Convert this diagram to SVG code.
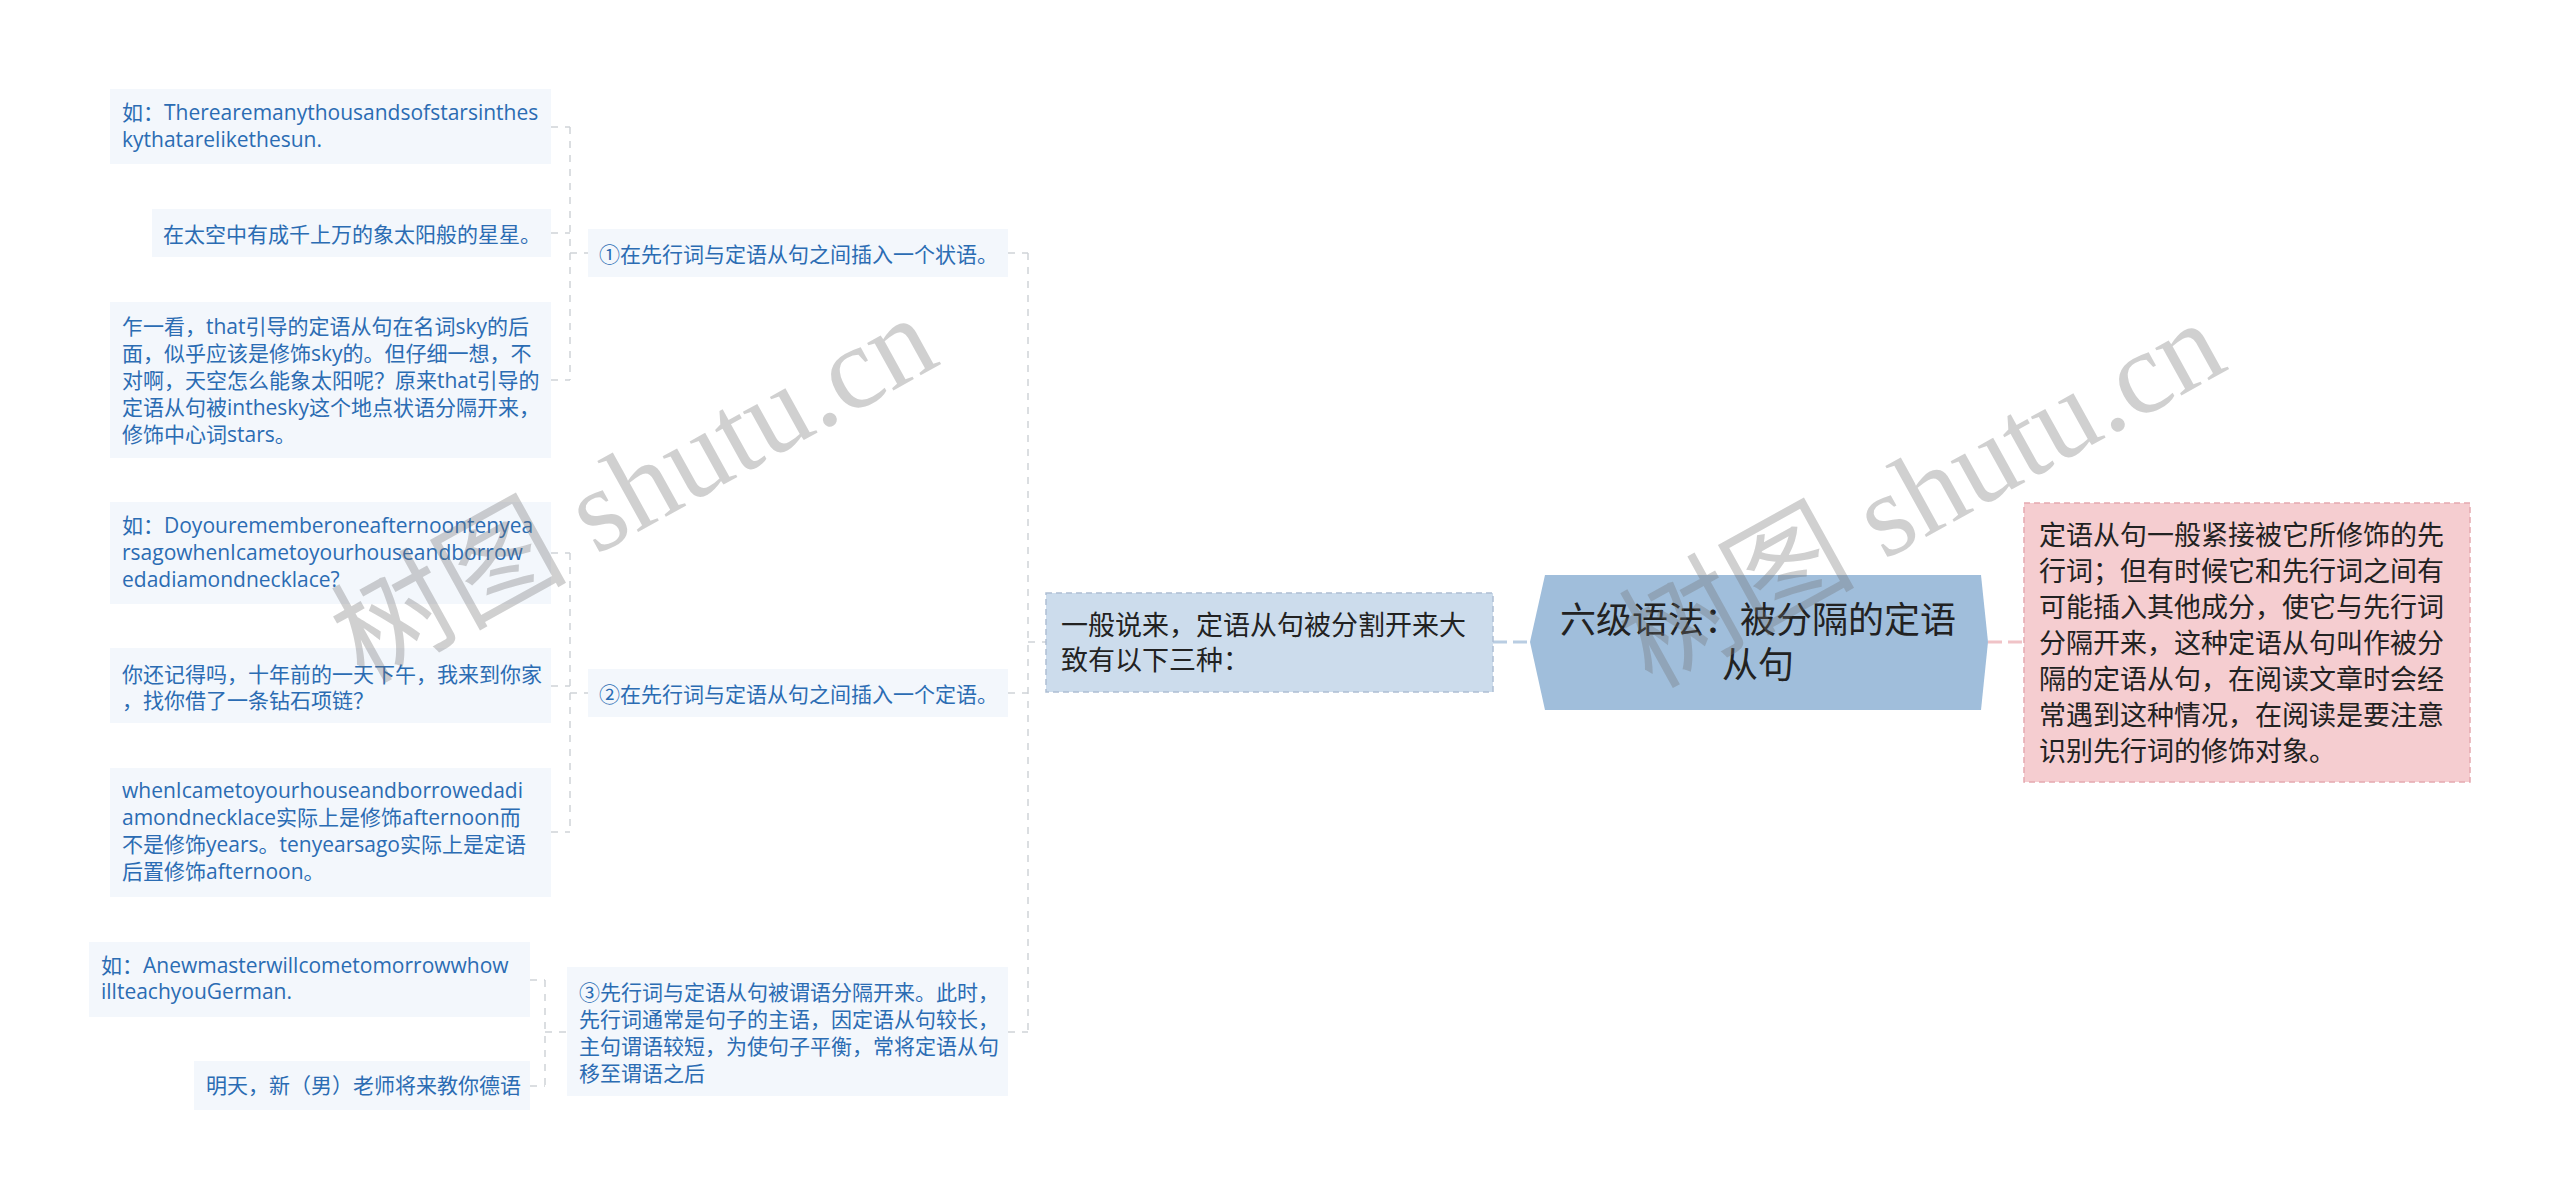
<svg xmlns="http://www.w3.org/2000/svg" width="2560" height="1199" viewBox="0 0 2560 1199">
<style>
.leaf rect{fill:#f3f7fc;}
.leaf text{font-family:"Open Sans","Noto Sans CJK SC",sans-serif;font-size:21px;fill:#2b6cb3;}
.sub rect{fill:#f3f7fc;}
.sub text{font-family:"Open Sans","Noto Sans CJK SC",sans-serif;font-size:21px;fill:#2b6cb3;}
.dark text{font-family:"Noto Sans CJK SC",sans-serif;fill:#222;}
.conn{fill:none;stroke:#cfd3d8;stroke-width:1.5;stroke-dasharray:7 7;}
.wm{font-family:"Liberation Serif","Noto Sans CJK SC",serif;font-size:118px;fill:#707070;fill-opacity:0.33;}
</style>
<rect width="2560" height="1199" fill="#ffffff"/>

<g id="connectors">
  <path class="conn" d="M551 127H570M551 233H570M551 380H570M570 127V380M570 253H588"/>
  <path class="conn" d="M551 553H570M551 686H570M551 832H570M570 553V832M570 693H588"/>
  <path class="conn" d="M530 980H545M530 1086H545M545 980V1086M545 1032H567"/>
  <path class="conn" d="M1008 253H1028M1008 693H1028M1008 1032H1028M1028 253V1032M1028 642H1046"/>
  <path d="M1493 642H1531" fill="none" stroke="#b9cde2" stroke-width="3" stroke-dasharray="14 6"/>
  <path d="M1988 642H2024" fill="none" stroke="#f0c3c7" stroke-width="3" stroke-dasharray="14 6"/>
</g>

<g id="root" class="dark">
  <polygon points="1530,642 1545,575 1981,575 1988,642 1981,710 1545,710" fill="#a0bedb"/>
  <text x="1758" y="633" font-size="36" text-anchor="middle">六级语法：被分隔的定语</text>
  <text x="1758" y="678" font-size="36" text-anchor="middle">从句</text>
</g>

<g id="desc" class="dark">
  <rect x="2024" y="503" width="446" height="279" fill="#f5cdd0" stroke="#e5a9b0" stroke-width="1.5" stroke-dasharray="6 4"/>
  <text font-size="27"><tspan x="2039" y="545">定语从句一般紧接被它所修饰的先</tspan><tspan x="2039" y="581">行词；但有时候它和先行词之间有</tspan><tspan x="2039" y="617">可能插入其他成分，使它与先行词</tspan><tspan x="2039" y="653">分隔开来，这种定语从句叫作被分</tspan><tspan x="2039" y="689">隔的定语从句，在阅读文章时会经</tspan><tspan x="2039" y="725">常遇到这种情况，在阅读是要注意</tspan><tspan x="2039" y="761">识别先行词的修饰对象。</tspan></text>
</g>

<g id="intro" class="dark">
  <rect x="1046" y="593" width="447" height="99" fill="#ccdcec" stroke="#aebfd3" stroke-width="1.5" stroke-dasharray="6 4"/>
  <text font-size="27"><tspan x="1061" y="635">一般说来，定语从句被分割开来大</tspan><tspan x="1061" y="670">致有以下三种：</tspan></text>
</g>

<g id="type1" class="sub">
  <rect x="588" y="229" width="420" height="48"/>
  <text x="599" y="262">①在先行词与定语从句之间插入一个状语。</text>
</g>
<g id="type2" class="sub">
  <rect x="588" y="669" width="420" height="48"/>
  <text x="599" y="702">②在先行词与定语从句之间插入一个定语。</text>
</g>
<g id="type3" class="sub">
  <rect x="567" y="967" width="441" height="129"/>
  <text><tspan x="579" y="1000">③先行词与定语从句被谓语分隔开来。此时，</tspan><tspan x="579" y="1027">先行词通常是句子的主语，因定语从句较长，</tspan><tspan x="579" y="1054">主句谓语较短，为使句子平衡，常将定语从句</tspan><tspan x="579" y="1081">移至谓语之后</tspan></text>
</g>

<g id="a1" class="leaf">
  <rect x="110" y="89" width="441" height="75"/>
  <text><tspan x="122" y="120">如：Therearemanythousandsofstarsinthes</tspan><tspan x="122" y="147">kythatarelikethesun.</tspan></text>
</g>
<g id="a2" class="leaf">
  <rect x="152" y="209" width="399" height="48"/>
  <text x="163" y="242">在太空中有成千上万的象太阳般的星星。</text>
</g>
<g id="a3" class="leaf">
  <rect x="110" y="302" width="441" height="156"/>
  <text><tspan x="122" y="334">乍一看，that引导的定语从句在名词sky的后</tspan><tspan x="122" y="361">面，似乎应该是修饰sky的。但仔细一想，不</tspan><tspan x="122" y="388">对啊，天空怎么能象太阳呢？原来that引导的</tspan><tspan x="122" y="415">定语从句被inthesky这个地点状语分隔开来，</tspan><tspan x="122" y="442">修饰中心词stars。</tspan></text>
</g>

<g id="b1" class="leaf">
  <rect x="110" y="502" width="441" height="102"/>
  <text><tspan x="122" y="533">如：Doyourememberoneafternoontenyea</tspan><tspan x="122" y="560">rsagowhenIcametoyourhouseandborrow</tspan><tspan x="122" y="587">edadiamondnecklace?</tspan></text>
</g>
<g id="b2" class="leaf">
  <rect x="110" y="648" width="441" height="75"/>
  <text><tspan x="122" y="682">你还记得吗，十年前的一天下午，我来到你家</tspan><tspan x="122" y="708">，找你借了一条钻石项链？</tspan></text>
</g>
<g id="b3" class="leaf">
  <rect x="110" y="768" width="441" height="129"/>
  <text><tspan x="122" y="798">whenIcametoyourhouseandborrowedadi</tspan><tspan x="122" y="825">amondnecklace实际上是修饰afternoon而</tspan><tspan x="122" y="852">不是修饰years。tenyearsago实际上是定语</tspan><tspan x="122" y="879">后置修饰afternoon。</tspan></text>
</g>

<g id="c1" class="leaf">
  <rect x="89" y="942" width="441" height="75"/>
  <text><tspan x="101" y="973">如：Anewmasterwillcometomorrowwhow</tspan><tspan x="101" y="999">illteachyouGerman.</tspan></text>
</g>
<g id="c2" class="leaf">
  <rect x="194" y="1061" width="336" height="49"/>
  <text x="206" y="1093">明天，新（男）老师将来教你德语</text>
</g>

<g id="watermark">
  <text class="wm" transform="translate(640,500) rotate(-29)" text-anchor="middle" dominant-baseline="middle">树图 shutu.cn</text>
  <text class="wm" transform="translate(1928,505) rotate(-29)" text-anchor="middle" dominant-baseline="middle">树图 shutu.cn</text>
</g>
</svg>
